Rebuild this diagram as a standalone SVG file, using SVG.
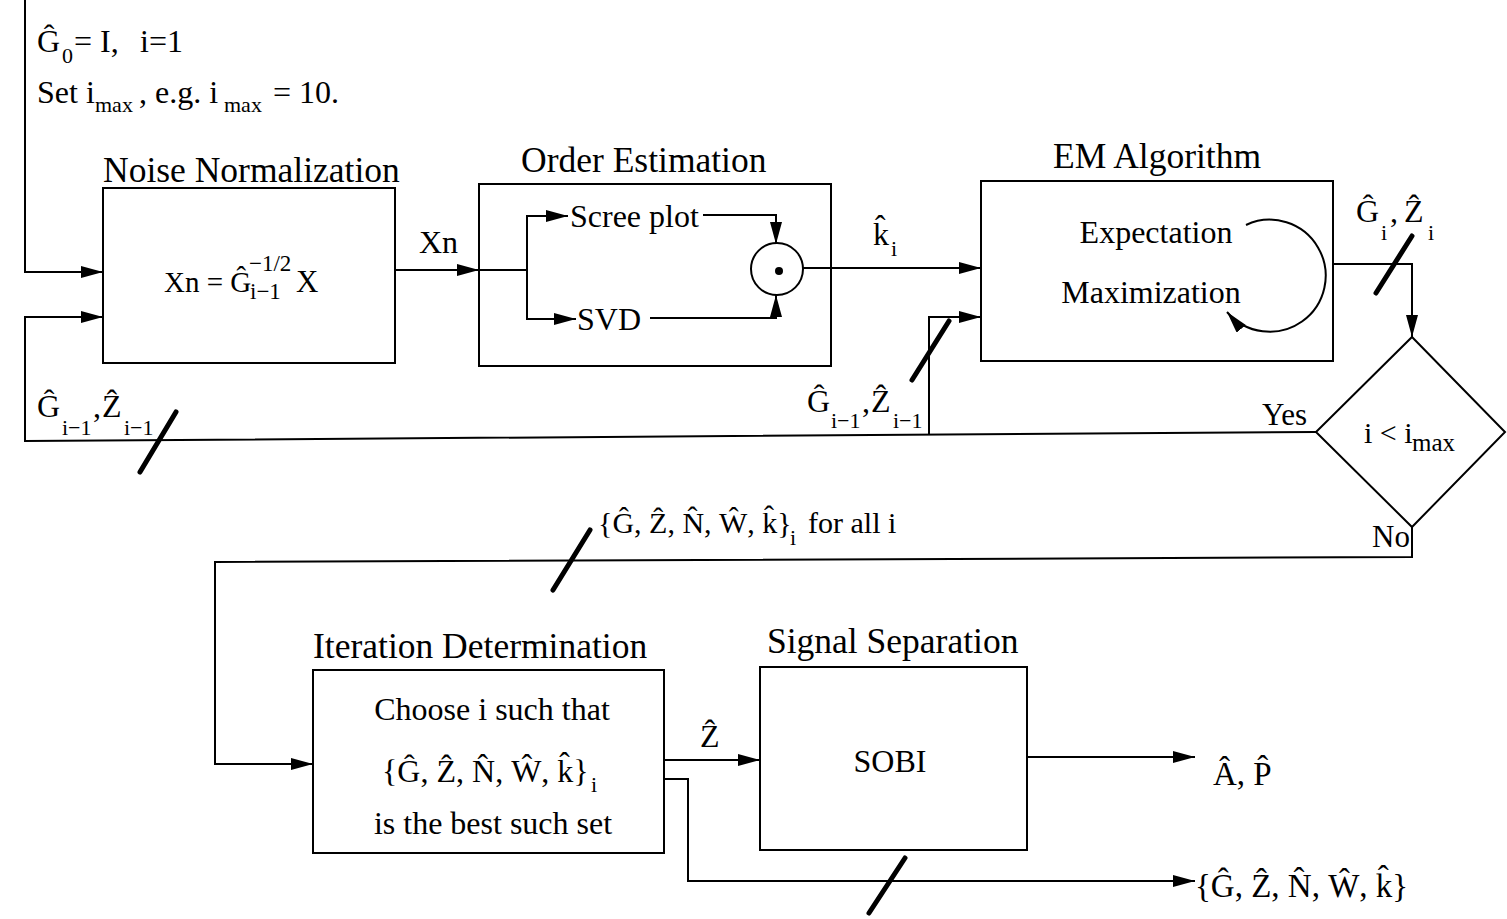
<svg xmlns="http://www.w3.org/2000/svg" width="1507" height="919" viewBox="0 0 1507 919">
<style>
text{font-family:"Liberation Serif","Times New Roman",serif;fill:#000}
.ti{font-size:35.5px}
.tx{font-size:32px}
.sb{font-size:22px}
.box{fill:#fff;stroke:#000;stroke-width:2}
.ln{fill:none;stroke:#000;stroke-width:2}
.sl{stroke:#000;stroke-width:5;stroke-linecap:round}
</style>
<defs>
<marker id="ah" markerUnits="userSpaceOnUse" markerWidth="24" markerHeight="14" refX="22" refY="6" orient="auto">
<path d="M0,0 L22,6 L0,12 z" fill="#000"/>
</marker>
</defs>
<rect width="1507" height="919" fill="#fff"/>

<g id="init">
<text class="tx" x="37" y="52">Ĝ</text>
<text class="sb" x="62" y="63">0</text>
<text class="tx" x="74" y="52">= I,</text>
<text class="tx" x="140" y="52">i=1</text>
<text class="tx" x="37" y="103">Set i</text>
<text class="sb" x="95" y="112">max</text>
<text class="tx" x="139" y="103">, e.g. i</text>
<text class="sb" x="224" y="112">max</text>
<text class="tx" x="273" y="103">= 10.</text>
</g>

<g id="noise-normalization">
<text class="ti" x="103" y="182">Noise Normalization</text>
<rect class="box" x="103" y="188" width="292" height="175"/>
<text style="font-size:29px" x="164" y="292">Xn = Ĝ</text>
<text style="font-size:23px" x="249" y="271">−1/2</text>
<text style="font-size:23px" x="250" y="299">i−1</text>
<text style="font-size:31px" x="296" y="292">X</text>
</g>

<g id="order-estimation">
<text class="ti" x="521" y="172">Order Estimation</text>
<rect class="box" x="479" y="184" width="352" height="182"/>
</g>
<g id="scree-plot"><text class="tx" x="570" y="227">Scree plot</text></g>
<g id="svd"><text class="tx" x="577" y="330">SVD</text></g>
<g id="combiner">
<circle cx="777" cy="269" r="26" fill="#fff" stroke="#000" stroke-width="2"/>
<circle cx="779" cy="271" r="4" fill="#000"/>
</g>

<g id="em-algorithm">
<text class="ti" x="1053" y="168">EM Algorithm</text>
<rect class="box" x="981" y="181" width="352" height="180"/>
<text class="tx" x="1156" y="243" text-anchor="middle">Expectation</text>
<text class="tx" x="1151" y="303" text-anchor="middle">Maximization</text>
<path class="ln" d="M1246,225 A56,56 0 1 1 1227,312" marker-end="url(#ah)"/>
</g>

<g id="decision">
<polygon class="box" points="1412,337 1505,432 1412,527 1316,432"/>
<text style="font-size:30px" x="1364" y="443">i &lt; i</text>
<text style="font-size:25px" x="1412" y="451">max</text>
</g>

<g id="iteration-determination">
<text class="ti" x="313" y="658">Iteration Determination</text>
<rect class="box" x="313" y="670" width="351" height="183"/>
<text class="tx" x="492" y="720" text-anchor="middle">Choose i such that</text>
<text class="tx" x="382" y="782">{Ĝ, Ẑ, N̂, Ŵ, k̂}</text>
<text class="sb" x="591" y="792">i</text>
<text class="tx" x="493" y="834" text-anchor="middle">is the best such set</text>
</g>

<g id="signal-separation">
<text class="ti" x="767" y="653">Signal Separation</text>
<rect class="box" x="760" y="667" width="267" height="183"/>
<text class="tx" x="890" y="772" text-anchor="middle">SOBI</text>
</g>

<g id="output-ap"><text style="font-size:33px" x="1213" y="785">Â, P̂</text></g>
<g id="output-set"><text style="font-size:33px" x="1195" y="897">{Ĝ, Ẑ, N̂, Ŵ, k̂}</text></g>

<g id="connectors">
<path class="ln" d="M25,0 V272 H103" marker-end="url(#ah)"/>
<path class="ln" d="M1316,432 L25,441 V317 H103" marker-end="url(#ah)"/>
<path class="ln" d="M929,435 V317 H981" marker-end="url(#ah)"/>
<path class="ln" d="M395,270 H479" marker-end="url(#ah)"/>
<path class="ln" d="M479,270 H527"/>
<path class="ln" d="M527,270 V216 H568" marker-end="url(#ah)"/>
<path class="ln" d="M527,270 V319 H576" marker-end="url(#ah)"/>
<path class="ln" d="M703,215 H776 V244" marker-end="url(#ah)"/>
<path class="ln" d="M650,318 H776 V295" marker-end="url(#ah)"/>
<path class="ln" d="M803,268 H981" marker-end="url(#ah)"/>
<path class="ln" d="M1333,264 H1412 V337" marker-end="url(#ah)"/>
<path class="ln" d="M1412,527 V557 L215,562 V764 H313" marker-end="url(#ah)"/>
<path class="ln" d="M664,760 H760" marker-end="url(#ah)"/>
<path class="ln" d="M664,779 H688 V881 H1195" marker-end="url(#ah)"/>
<path class="ln" d="M1027,757 H1195" marker-end="url(#ah)"/>
<line class="sl" x1="140" y1="472" x2="176" y2="412"/>
<line class="sl" x1="912" y1="380" x2="949" y2="321"/>
<line class="sl" x1="1376" y1="293" x2="1412" y2="236"/>
<line class="sl" x1="553" y1="590" x2="590" y2="530"/>
<line class="sl" x1="869" y1="913" x2="905" y2="858"/>
<text class="tx" x="419" y="253">Xn</text>
<text class="tx" x="873" y="245">k̂</text>
<text class="sb" x="891" y="256">i</text>
<text class="tx" x="37" y="417">Ĝ</text>
<text class="sb" x="62" y="435">i−1</text>
<text class="tx" x="93" y="417">,</text>
<text class="tx" x="102" y="417">Ẑ</text>
<text class="sb" x="124" y="435">i−1</text>
<text class="tx" x="807" y="412">Ĝ</text>
<text class="sb" x="831" y="428">i−1</text>
<text class="tx" x="862" y="412">,</text>
<text class="tx" x="871" y="412">Ẑ</text>
<text class="sb" x="893" y="428">i−1</text>
<text class="tx" x="1356" y="222">Ĝ</text>
<text class="sb" x="1381" y="240">i</text>
<text class="tx" x="1390" y="222">,</text>
<text class="tx" x="1404" y="222">Ẑ</text>
<text class="sb" x="1428" y="240">i</text>
<text style="font-size:31px" x="1262" y="425">Yes</text>
<text style="font-size:31px" x="1372" y="547">No</text>
<text style="font-size:30px" x="598" y="533">{Ĝ, Ẑ, N̂, Ŵ, k̂}</text>
<text class="sb" x="790" y="545">i</text>
<text style="font-size:30px" x="808" y="533">for all i</text>
<text class="tx" x="700" y="747">Ẑ</text>
</g>
</svg>
